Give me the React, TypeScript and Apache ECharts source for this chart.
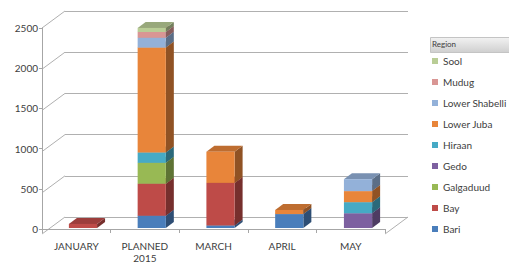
import React, { useEffect, useRef } from "react";
import * as echarts from "echarts";

const categories = ["JANUARY", "PLANNED\n2015", "MARCH", "APRIL", "MAY"];
const regions = ["Bari", "Bay", "Galgaduud", "Gedo", "Hiraan", "Lower Juba", "Lower Shabelli", "Mudug", "Sool"];
const bari = [0, 150, 30, 170, 0];
const bay = [50, 390, 520, 0, 0];
const galgaduud = [0, 255, 0, 0, 0];
const gedo = [0, 0, 0, 0, 180];
const hiraan = [0, 125, 0, 0, 135];
const lowerJuba = [0, 1280, 380, 50, 135];
const lowerShabelli = [0, 120, 0, 0, 145];
const mudug = [0, 70, 0, 0, 0];
const sool = [0, 50, 0, 0, 0];
const yTicks = [0, 500, 1000, 1500, 2000, 2500];
const colors = ["#4a7ebb", "#be4b48", "#98b954", "#7d60a0", "#46aac5", "#e8853a", "#93b1d9", "#d99694", "#b9cd96"];

const values = [bari, bay, galgaduud, gedo, hiraan, lowerJuba, lowerShabelli, mudug, sool];

function shade(hex: string, f: number) {
  const n = parseInt(hex.slice(1), 16);
  const r = Math.round(((n >> 16) & 255) * f);
  const g = Math.round(((n >> 8) & 255) * f);
  const b = Math.round((n & 255) * f);
  return `rgb(${r},${g},${b})`;
}

export default function App() {
  const ref = useRef<HTMLDivElement>(null);
  useEffect(() => {
    document.body.style.margin = "0";
    const chart = echarts.init(ref.current!, null, { renderer: "svg" });
    const cum = categories.map(() => 0);
    const barSeries = regions.map((name, si) => {
      const data: number[][] = [];
      values[si].forEach((v, ci) => {
        if (v > 0) {
          data.push([ci, cum[ci], cum[ci] + v]);
          cum[ci] += v;
        }
      });
      const col = colors[si];
      return {
        type: "custom",
        name,
        xAxisIndex: 1,
        yAxisIndex: 1,
        itemStyle: { color: col },
        encode: { x: 0, y: [1, 2] },
        data,
        renderItem: (params: any, api: any) => {
          const c = api.value(0);
          const p0 = api.coord([c, api.value(1)]);
          const p1 = api.coord([c, api.value(2)]);
          const w = api.size([1, 0])[0] * 0.41;
          const x0 = p0[0] - w / 2;
          const x1 = p0[0] + w / 2;
          const yb = p0[1];
          const yt = p1[1];
          const dx = 8;
          const dy = -6;
          return {
            type: "group",
            children: [
              { type: "polygon", shape: { points: [[x1, yb], [x1 + dx, yb + dy], [x1 + dx, yt + dy], [x1, yt]] }, style: { fill: shade(col, 0.62) } },
              { type: "polygon", shape: { points: [[x0, yt], [x1, yt], [x1 + dx, yt + dy], [x0 + dx, yt + dy]] }, style: { fill: shade(col, 0.82) } },
              { type: "rect", shape: { x: x0, y: yt, width: w, height: yb - yt }, style: { fill: col } },
            ],
          };
        },
      };
    });

    const wallSeries = {
      type: "custom",
      xAxisIndex: 2,
      yAxisIndex: 2,
      silent: true,
      z: 0,
      data: [...yTicks.map((t) => [0, t]), [1, 0]],
      renderItem: (params: any, api: any) => {
        const p = api.coord([api.value(0), api.value(1)]);
        return {
          type: "line",
          shape: { x1: p[0], y1: p[1], x2: p[0] - 23, y2: p[1] + 17 },
          style: { stroke: "#b0b0b0", lineWidth: 1 },
        };
      },
    };

    chart.setOption({
      animation: false,
      color: colors,
      textStyle: { fontFamily: "Lato" },
      legend: {
        orient: "vertical",
        left: 432,
        top: 55,
        padding: 0,
        data: regions.slice().reverse(),
        icon: "rect",
        itemWidth: 6,
        itemHeight: 6,
        itemGap: 9,
        textStyle: { fontSize: 10, color: "#404040", lineHeight: 12, fontFamily: "Lato" },
      },
      grid: [
        { left: 42, right: 124, top: 28, bottom: 31 },
        { left: 48.6, right: 116.6, top: 23, bottom: 36 },
        { left: 65, right: 101, top: 11, bottom: 47 },
      ],
      xAxis: [
        {
          type: "category",
          gridIndex: 0,
          data: categories,
          axisLine: { lineStyle: { color: "#a6a6a6" } },
          axisTick: { show: true, length: 4, lineStyle: { color: "#a6a6a6" } },
          axisLabel: { color: "#404040", fontSize: 10, margin: 11, lineHeight: 12, fontFamily: "Lato" },
        },
        { type: "category", gridIndex: 1, data: categories, show: false },
        { type: "value", gridIndex: 2, min: 0, max: 1, show: false },
      ],
      yAxis: [
        {
          type: "value",
          gridIndex: 0,
          min: 0,
          max: 2500,
          interval: 500,
          axisLine: { show: true, lineStyle: { color: "#a6a6a6" } },
          axisTick: { show: true, length: 3, lineStyle: { color: "#a6a6a6" } },
          splitLine: { show: false },
          axisLabel: { color: "#404040", fontSize: 10, margin: 4, fontFamily: "Lato", formatter: (v: number) => String(v) },
        },
        { type: "value", gridIndex: 1, min: 0, max: 2500, interval: 500, show: false },
        {
          type: "value",
          gridIndex: 2,
          min: 0,
          max: 2500,
          interval: 500,
          axisLine: { show: false },
          axisTick: { show: false },
          axisLabel: { show: false },
          splitLine: { show: true, lineStyle: { color: "#b0b0b0", width: 1 } },
        },
      ],
      graphic: [
        {
          type: "rect",
          left: 430,
          top: 37,
          shape: { width: 79, height: 15 },
          style: {
            fill: new echarts.graphic.LinearGradient(0, 0, 0, 1, [
              { offset: 0, color: "#f2f2f2" },
              { offset: 1, color: "#cfcfcf" },
            ]),
            stroke: "#c4c4c4",
          },
        },
        {
          type: "text",
          left: 432,
          top: 40,
          style: { text: "Region", fontSize: 8, fill: "#404040", fontFamily: "Lato" },
        },
      ],
      series: [wallSeries, ...barSeries],
    });
    return () => chart.dispose();
  }, []);
  return <div ref={ref} style={{ width: 509, height: 264 }} />;
}
